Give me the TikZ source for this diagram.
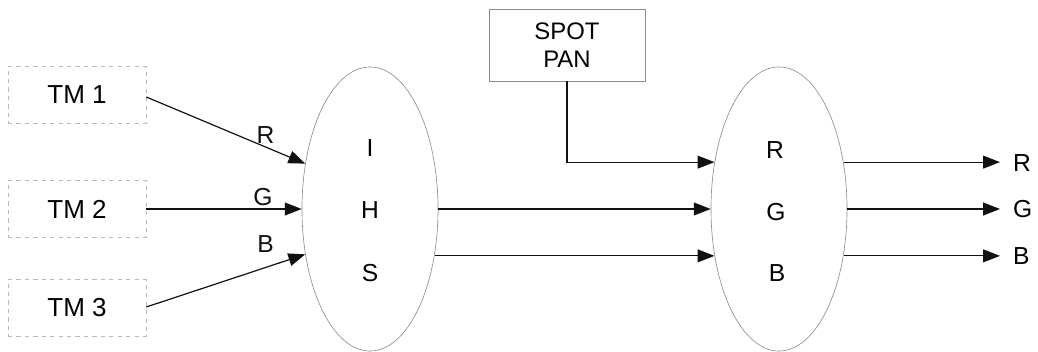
\documentclass[tikz,border=0pt]{standalone}
\usepackage{fontspec}
\setmainfont{Liberation Sans}
\usepackage{tikz}
\usetikzlibrary{arrows.meta,positioning,shapes.geometric}
\definecolor{inkline}{HTML}{111111}
\definecolor{scangray}{HTML}{8C8C8C}
\tikzset{
  tmbox/.style={
    rectangle, draw=scangray!60, dashed, line width=0.4pt,
    minimum width=3.45cm, minimum height=1.43cm,
    font=\fontsize{18.5}{22}\selectfont, align=center, inner sep=2pt
  },
  spotbox/.style={
    rectangle, draw=scangray, line width=0.45pt,
    minimum width=3.9cm, minimum height=1.8cm,
    font=\fontsize{17}{20}\selectfont, align=center, inner sep=2pt
  },
  mixer/.style={
    ellipse, draw=scangray, line width=0.45pt,
    minimum width=3.4cm, minimum height=7.1cm, inner sep=0pt
  },
  chan/.style={font=\fontsize{17.5}{20}\selectfont, inner sep=2pt},
  dataarrow/.style={
    -{Triangle[length=0.42cm,width=0.32cm]}, line width=0.85pt, color=inkline
  },
}
\begin{document}
\begin{tikzpicture}[x=0.025cm, y=-0.025cm]
  \useasboundingbox (0,0) rectangle (1038,352);
  % Input bands
  \node[tmbox] (tm1) at (77,95) {TM 1};
  \node[tmbox] (tm2) at (77,209) {TM 2};
  \node[tmbox] (tm3) at (77,308) {TM 3};
  % IHS transform
  \node[mixer] (ihs) at (370,209) {};
  \node[chan] (ci) at (370,148) {I};
  \node[chan] (ch) at (370,210) {H};
  \node[chan] (cs) at (370,273) {S};
  \draw[dataarrow] (tm1.east |- 0,97) -- node[chan, pos=0.75, above] {R} (ihs.145);
  \draw[dataarrow] (tm2.east) -- node[chan, pos=0.75, above] {G} (ihs.west);
  \draw[dataarrow] (tm3.east |- 0,307) -- node[chan, pos=0.75, above=0.3cm] {B} (ihs.215);
  % Pan band
  \node[spotbox] (spot) at (567,45) {SPOT\\PAN};
  % RGB back transform
  \node[mixer] (rgb) at (779,209) {};
  \node[chan] (cr) at (775,150) {R};
  \node[chan] (cg) at (776,212) {G};
  \node[chan] (cb) at (777,273) {B};
  \draw[dataarrow] (spot.south) |- (rgb.144);
  \draw[dataarrow] (ihs.east) -- (rgb.west);
  \draw[dataarrow] (ihs.-36) -- (rgb.216);
  % Outputs
  \node[chan, anchor=west, inner xsep=0.32cm] (outr) at (1000,163) {R};
  \node[chan, anchor=west, inner xsep=0.32cm] (outg) at (1000,209) {G};
  \node[chan, anchor=west, inner xsep=0.32cm] (outb) at (1000,256) {B};
  \draw[dataarrow] (rgb.36) -- (rgb.36 -| outr.west);
  \draw[dataarrow] (rgb.east) -- (outg.west);
  \draw[dataarrow] (rgb.-36) -- (rgb.-36 -| outb.west);
\end{tikzpicture}
\end{document}
